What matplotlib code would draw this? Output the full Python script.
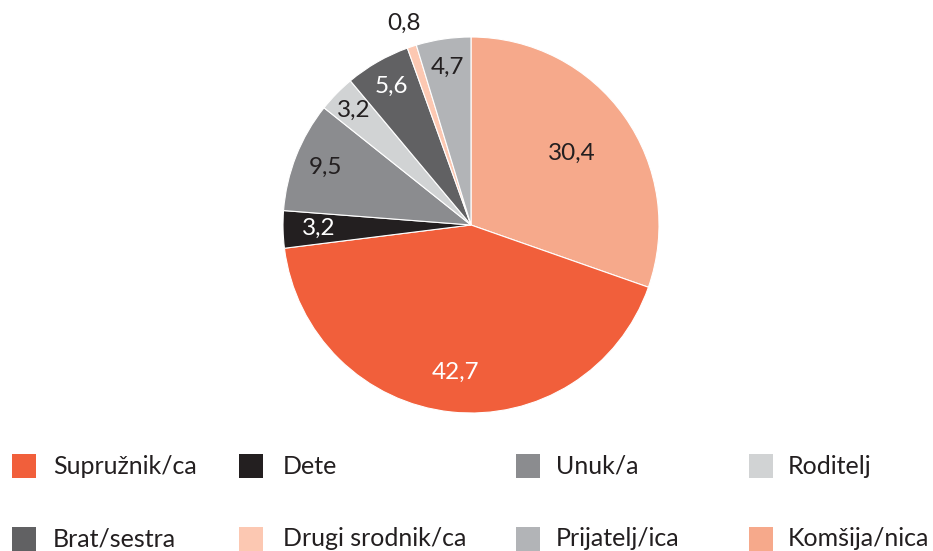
import matplotlib.pyplot as plt
from matplotlib.patches import Rectangle
import numpy as np

plt.rcParams['font.family'] = ['Lato', 'DejaVu Sans']

# podaci
kategorije = ['Komšija/nica', 'Supružnik/ca', 'Dete', 'Unuk/a', 'Roditelj',
              'Brat/sestra', 'Drugi srodnik/ca', 'Prijatelj/ica']
vrednosti = [30.4, 42.7, 3.2, 9.5, 3.2, 5.6, 0.8, 4.7]
boje = ['#F6A98B', '#F15F3B', '#231F20', '#8B8C8F', '#D1D3D4',
        '#616163', '#FCC8B2', '#B2B4B7']
boje_teksta = ['#231F20', 'white', 'white', '#231F20', '#231F20',
               'white', '#231F20', '#231F20']
udaljenost = [0.66, 0.79, 0.81, 0.83, 0.87, 0.85, 1.13, 0.85]

# redosled u legendi
legenda = ['Supružnik/ca', 'Dete', 'Unuk/a', 'Roditelj',
           'Brat/sestra', 'Drugi srodnik/ca', 'Prijatelj/ica', 'Komšija/nica']

W, H = 933, 551
fig = plt.figure(figsize=(W / 100, H / 100), dpi=100)

cx, cy, r = 471, 225, 188
ax = fig.add_axes([(cx - r) / W, (H - cy - r) / H, 2 * r / W, 2 * r / H])
wedges, _ = ax.pie(vrednosti, colors=boje, startangle=90, counterclock=False,
                   radius=1, wedgeprops=dict(edgecolor='white', linewidth=0.8))
ax.set_xlim(-1, 1)
ax.set_ylim(-1, 1)
ax.set_aspect('equal')
ax.axis('off')

# oznake vrednosti
for w, v, c, d in zip(wedges, vrednosti, boje_teksta, udaljenost):
    ugao = np.deg2rad((w.theta1 + w.theta2) / 2)
    ax.text(d * np.cos(ugao), d * np.sin(ugao), f'{v:.1f}'.replace('.', ','),
            ha='center', va='center', fontsize=17.5, color=c, clip_on=False)

# legenda
kvadrat_x = [12, 239, 516, 749]
tekst_x = [53, 283, 556, 788]
red_y = [466, 539]
for i, naziv in enumerate(legenda):
    red, kol = divmod(i, 4)
    boja = boje[kategorije.index(naziv)]
    y = red_y[red]
    fig.patches.append(Rectangle((kvadrat_x[kol] / W, (H - y - 12) / H), 24 / W, 24 / H,
                                 transform=fig.transFigure, facecolor=boja, edgecolor='none'))
    fig.text(tekst_x[kol] / W, (H - y) / H, naziv, ha='left', va='center',
             fontsize=18, color='#231F20')

fig.savefig('out.png', dpi=100)
